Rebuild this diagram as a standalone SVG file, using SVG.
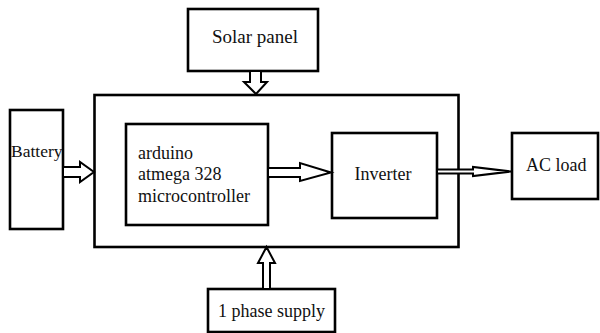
<svg xmlns="http://www.w3.org/2000/svg" width="600" height="333" viewBox="0 0 600 333">
<style>
.box{fill:#fff;stroke:#000;stroke-width:2.6}
.arr{fill:#fff;stroke:#000;stroke-width:2;stroke-linejoin:miter}
text{font-family:"Liberation Serif","Times New Roman",serif;font-size:18px;fill:#111}
</style>
<rect width="600" height="333" fill="#fff"/>
<g id="main"><rect class="box" x="94.5" y="95" width="364" height="152"/></g>
<g id="solar"><rect class="box" x="188" y="9" width="130" height="62"/><text x="255" y="43" text-anchor="middle" style="font-size:19px">Solar panel</text></g>
<g id="battery"><rect class="box" x="10" y="110" width="53" height="119"/><text x="11" y="157" style="font-size:17.5px">Battery</text></g>
<g id="arduino"><rect class="box" x="126" y="124" width="142" height="101"/><text x="138" y="159">arduino</text><text x="138" y="180">atmega 328</text><text x="138" y="202">microcontroller</text></g>
<g id="inverter"><rect class="box" x="332" y="133" width="105" height="85"/><text x="383" y="180" text-anchor="middle">Inverter</text></g>
<g id="acload"><rect class="box" x="512" y="133" width="86" height="66"/><text x="526" y="171">AC load</text></g>
<g id="supply"><rect class="box" x="208" y="289" width="127" height="43"/><text x="218" y="317">1 phase supply</text></g>
<g id="connectors">
<polygon class="arr" points="250,71 261,71 261,82 267,82 256,94 244,82 250,82"/>
<polygon class="arr" points="63,167 80,167 80,162 94,172 80,182 80,177 63,177"/>
<polygon class="arr" points="268,168 300,168 300,163 331,172.5 300,181 300,177 268,177"/>
<polygon class="arr" points="437,169.5 473,169.5 473,167 511,171.5 473,176 473,173.5 437,173.5"/>
<polygon class="arr" points="263,289 263,263 258,263 266.5,247 275,263 270,263 270,289"/>
</g>
</svg>
